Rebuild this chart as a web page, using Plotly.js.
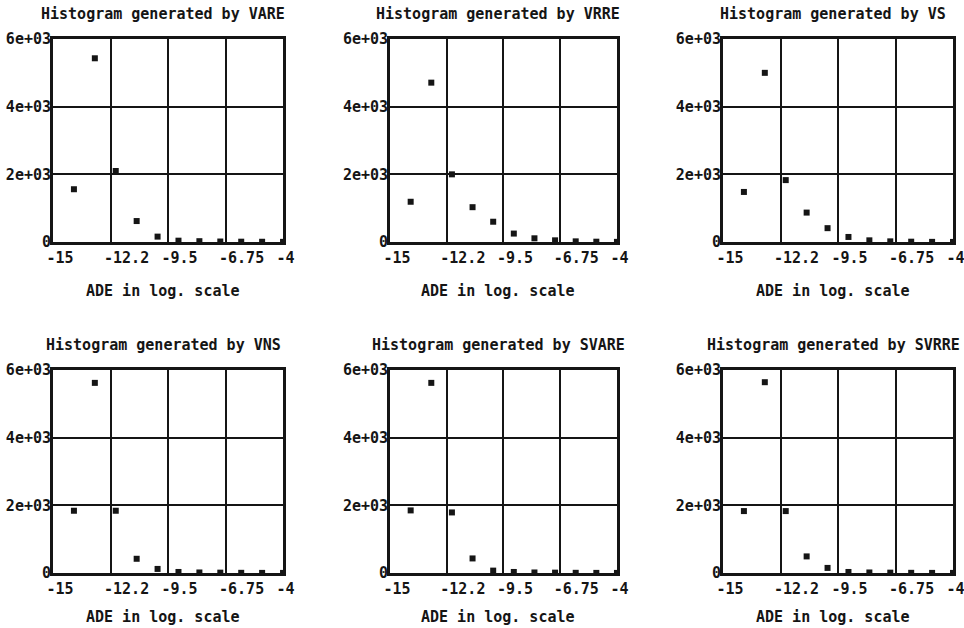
<!DOCTYPE html>
<html><head><meta charset="utf-8">
<script src="https://cdn.plot.ly/plotly-3.0.1.min.js"></script>
<style>html,body{margin:0;padding:0;background:#fff}#chart{width:964px;height:628px}</style>
</head><body><div id="chart"></div>
<script>
// ---- data ----
const xBins = [-14, -13, -12, -11, -10, -9, -8, -7, -6, -5, -4];
const methods = ['VARE', 'VRRE', 'VS', 'VNS', 'SVARE', 'SVRRE'];
const countsVARE  = [1560, 5430, 2100, 620, 160, 40, 25, 15, 10, 8, 5];
const countsVRRE  = [1190, 4710, 2000, 1030, 600, 250, 110, 50, 20, 10, 5];
const countsVS    = [1480, 5000, 1830, 870, 410, 150, 50, 20, 10, 5, 3];
const countsVNS   = [1840, 5620, 1840, 420, 120, 30, 15, 10, 5, 3, 2];
const countsSVARE = [1850, 5620, 1790, 430, 70, 30, 15, 10, 5, 3, 2];
const countsSVRRE = [1830, 5640, 1830, 490, 150, 30, 15, 10, 5, 3, 2];
const allCounts = [countsVARE, countsVRRE, countsVS, countsVNS, countsSVARE, countsSVRRE];
const tickValsX = [-15, -12.25, -9.5, -6.75, -4];
const tickTextX = ['-15', '-12.2', '-9.5', '-6.75', '-4'];
const tickValsY = [0, 2000, 4000, 6000];
const tickTextY = ['0', '2e+03', '4e+03', '6e+03'];
const titlePrefix = 'Histogram generated by ';
const xTitle = 'ADE in log. scale';

// ---- layout geometry ----
const colDomains = [[0.0550, 0.2936], [0.4046, 0.6400], [0.7500, 0.9886]];
const rowDomains = [[0.6146, 0.9379], [0.0876, 0.4108]];
const xTitleShift = [-38, -33];
const FONT = 'DejaVu Sans Mono, Liberation Mono, monospace';
const INK = '#151515';
const FS = 15;

const traces = [];
const layout = {
  width: 964, height: 628,
  margin: {l: 0, r: 0, t: 0, b: 0},
  paper_bgcolor: '#fff', plot_bgcolor: '#fff',
  showlegend: false,
  font: {family: FONT, color: INK, size: FS, weight: 'bold'},
  annotations: []
};

methods.forEach((m, i) => {
  const r = Math.floor(i / 3), c = i % 3;
  const n = i + 1;
  const sfx = n === 1 ? '' : String(n);
  traces.push({
    type: 'scatter', mode: 'markers',
    x: xBins, y: allCounts[i],
    xaxis: 'x' + sfx, yaxis: 'y' + sfx,
    marker: {symbol: 'square', size: 6, color: INK},
    cliponaxis: false, hoverinfo: 'skip'
  });
  layout['xaxis' + sfx] = {
    domain: colDomains[c], anchor: 'y' + sfx,
    range: [-15, -4], tickmode: 'array', tickvals: tickValsX, ticktext: tickTextX,
    showgrid: true, gridcolor: INK, gridwidth: 2, zeroline: false,
    showline: true, mirror: true, linecolor: INK, linewidth: 3,
    ticks: '', ticklabelposition: 'outside right', ticklabelshift: -8,
    ticklabeloverflow: 'allow',
    tickfont: {family: FONT, size: FS, color: INK, weight: 'bold'},
    fixedrange: true
  };
  layout['yaxis' + sfx] = {
    domain: rowDomains[r], anchor: 'x' + sfx,
    range: [0, 6000], tickmode: 'array', tickvals: tickValsY, ticktext: tickTextY,
    showgrid: true, gridcolor: INK, gridwidth: 2, zeroline: false,
    showline: true, mirror: true, linecolor: INK, linewidth: 3,
    ticks: '', ticklabelstandoff: -4, ticklabeloverflow: 'allow',
    tickfont: {family: FONT, size: FS, color: INK, weight: 'bold'},
    fixedrange: true
  };
  const cx = (colDomains[c][0] + colDomains[c][1]) / 2;
  layout.annotations.push({
    xref: 'paper', yref: 'paper', x: cx, y: rowDomains[r][1],
    xanchor: 'center', yanchor: 'bottom', yshift: 14, xshift: -5,
    text: titlePrefix + m, showarrow: false,
    font: {family: FONT, size: FS, color: INK, weight: 'bold'}
  });
  layout.annotations.push({
    xref: 'paper', yref: 'paper', x: cx, y: rowDomains[r][0],
    xanchor: 'center', yanchor: 'top', yshift: xTitleShift[r], xshift: -5,
    text: xTitle, showarrow: false,
    font: {family: FONT, size: FS, color: INK, weight: 'bold'}
  });
});

Plotly.newPlot('chart', traces, layout, {staticPlot: true, displayModeBar: false});
</script>
</body></html>
